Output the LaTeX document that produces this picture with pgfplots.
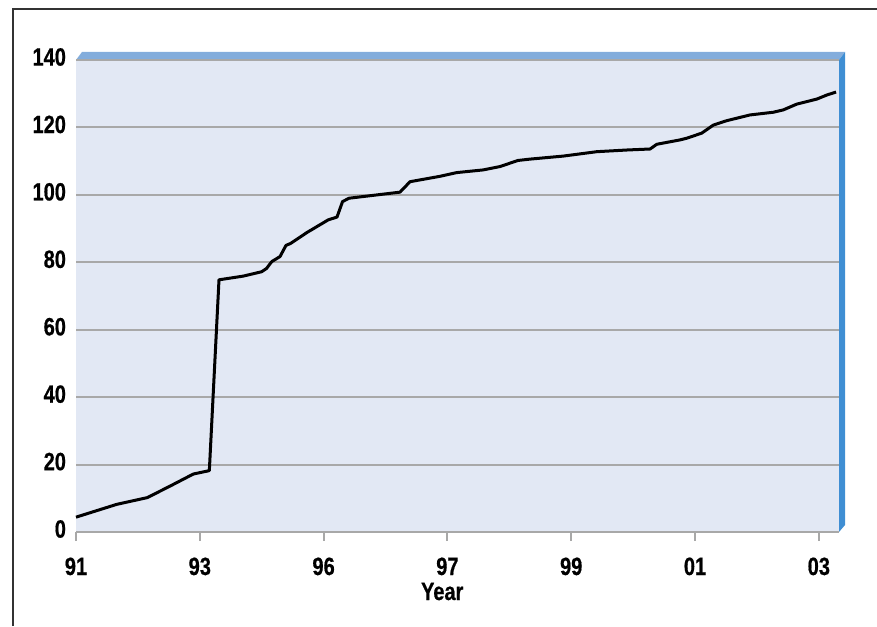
\documentclass[border=0pt]{standalone}
\usepackage{fontspec}
\setmainfont[FakeStretch=0.8, BoldFeatures={FakeBold=0.6}]{Liberation Sans}
\usepackage{pgfplots}
\pgfplotsset{compat=1.18}
\definecolor{bgc}{HTML}{E2E8F4}
\definecolor{gridc}{HTML}{A8A8A8}
\definecolor{topc}{HTML}{83ADDC}
\definecolor{wallc}{HTML}{3F8ED3}
\pgfplotstableread{
x y
0.000 4.4
0.329 8.2
0.576 10.2
0.759 13.6
0.948 17.2
1.077 18.2
1.155 74.8
1.351 75.9
1.500 77.2
1.540 78.2
1.581 80.2
1.648 81.7
1.696 85.0
1.734 85.6
1.864 88.8
2.038 92.6
2.108 93.4
2.153 98.0
2.205 99.0
2.617 100.8
2.698 103.9
2.940 105.5
3.075 106.6
3.290 107.4
3.425 108.4
3.570 110.2
3.667 110.6
3.936 111.5
4.206 112.8
4.448 113.3
4.637 113.6
4.691 115.0
4.879 116.3
4.933 116.8
5.054 118.3
5.148 120.7
5.256 122.0
5.444 123.7
5.632 124.5
5.713 125.2
5.821 126.9
5.983 128.4
6.064 129.6
6.139 130.5
}\datatable
\begin{document}
\begin{tikzpicture}[x=1pt,y=1pt]
\path[use as bounding box] (0,0) rectangle (438.5,313);
\draw[line width=0.7pt, black!80] (6.5,0) -- (6.5,308.5) -- (438.5,308.5);
\begin{axis}[
  at={(38pt,47pt)}, anchor=south west,
  scale only axis, width=381.5pt, height=236pt,
  xmin=0, xmax=6.163, ymin=0, ymax=140,
  axis background/.style={fill=bgc},
  axis x line*=bottom, axis y line*=left,
  x axis line style={gridc, line width=1pt},
  y axis line style={draw=none},
  xtick={0,1,2,3,4,5,6},
  xticklabels={91,93,96,97,99,01,03},
  ytick={0,20,40,60,80,100,120,140},
  yticklabels={0,20,40,60,80,100,120,140},
  xtick style={gridc, line width=1pt},
  ytick style={draw=none},
  tick align=outside,
  major tick length=4.5pt,
  ymajorgrids,
  grid style={gridc, line width=1pt},
  every tick label/.append style={font=\fontsize{12.5}{14}\selectfont\bfseries},
  xticklabel style={anchor=base, yshift=-17pt},
  yticklabel style={anchor=east, xshift=3pt, yshift=1.5pt},
  xlabel={Year},
  xlabel style={font=\fontsize{12.5}{14}\selectfont\bfseries, at={(rel axis cs:0.48,0)}, anchor=base, yshift=-34pt},
  clip=false,
]
\addplot[black, line width=1.5pt, line join=round, no marks] table[x=x,y=y] {\datatable};
\end{axis}
\fill[topc] (38,283) -- (41,287) -- (422.5,287) -- (419.5,283) -- cycle;
\draw[gridc, line width=0.8pt] (38,283) -- (419.5,283);
\fill[wallc] (419.5,283) -- (422.5,287) -- (422.5,50.5) -- (419.5,47) -- cycle;
\end{tikzpicture}
\end{document}
